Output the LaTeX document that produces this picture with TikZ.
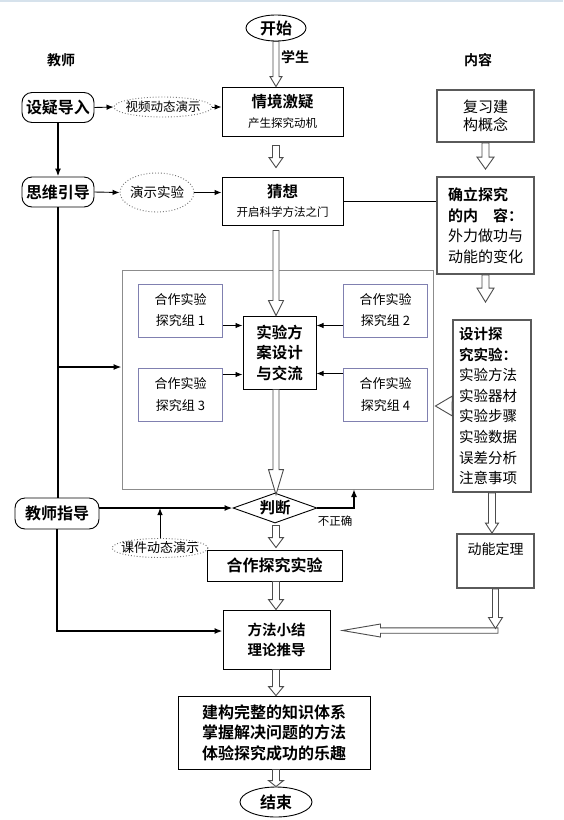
\documentclass[tikz,border=0pt]{standalone}
\usepackage{fontspec}
\newfontfamily\cjk{Noto Sans CJK SC}[BoldFont={Noto Sans CJK SC Bold}]
\usetikzlibrary{shapes.geometric,arrows.meta,calc}
\definecolor{grpc}{RGB}{128,128,176}
\definecolor{bordg}{RGB}{90,90,90}
\definecolor{bigc}{RGB}{140,140,140}
\definecolor{topc}{RGB}{214,226,236}
\newcommand\fsz[2]{\fontsize{#1}{#2}\selectfont}
% down block arrow: x-ref, from, to, shaft half, head half, head length
\newcommand\dnarr[6]{\draw[barr] let \p1=(#1), \p2=(#2), \p3=(#3) in
 (\x1-#4pt,\y2) -- (\x1-#4pt,\y3+#6pt) -- (\x1-#5pt,\y3+#6pt) -- (\x1,\y3) --
 (\x1+#5pt,\y3+#6pt) -- (\x1+#4pt,\y3+#6pt) -- (\x1+#4pt,\y2) -- cycle;}
% left block arrow: y-ref, from (right), to (tip), shaft half, head half, head length
\newcommand\ltarr[6]{\draw[barr] let \p1=(#1), \p2=(#2), \p3=(#3) in
 (\x2,\y1+#4pt) -- (\x3+#6pt,\y1+#4pt) -- (\x3+#6pt,\y1+#5pt) -- (\x3,\y1) --
 (\x3+#6pt,\y1-#5pt) -- (\x3+#6pt,\y1-#4pt) -- (\x2,\y1-#4pt) -- cycle;}
\begin{document}
\begin{tikzpicture}[x=1pt,y=-1pt,
  every node/.style={font=\cjk, inner sep=0pt},
  hd/.style={font=\cjk\bfseries\fsz{14}{16}},
  rbox/.style={draw, rounded corners=10pt, line width=0.9pt, minimum width=72pt, minimum height=30pt, font=\cjk\bfseries\fsz{16}{18}},
  dell/.style={ellipse, draw=black!55, dotted, line width=0.9pt, inner xsep=-12pt, inner ysep=-2pt},
  sbox/.style={draw, line width=0.9pt, align=center},
  gbox/.style={draw=bordg, line width=1.8pt},
  grp/.style={draw=grpc, line width=0.8pt, minimum width=84pt, minimum height=53pt, align=center, font=\cjk\fsz{13}{21}},
  barr/.style={draw=black!70, line width=0.9pt, fill=white},
  arr/.style={-{Latex[length=7pt,width=5.5pt]}, line width=0.9pt},
  tarr/.style={-{Latex[length=8pt,width=6pt]}, line width=2pt},
  tline/.style={line width=2pt},
]
\useasboundingbox[fill=white] (0,0) rectangle (563,820);
\draw[topc, line width=2pt] (0,1) -- (563,1);

% column heads
\node[hd] (tch) at (61,60) {教师};
\node[hd] (stu) at (295,57) {学生};
\node[hd] (cnt) at (478,60) {内容};

% main nodes
\node[ellipse, draw, line width=0.9pt, minimum width=60pt, minimum height=26pt, inner xsep=-10pt, inner ysep=-2pt, font=\cjk\bfseries\fsz{16}{18}] (start) at (276,28) {开始};
\node[rbox] (syd) at (58,107.5) {设疑导入};
\node[dell, minimum width=98pt, minimum height=20pt, font=\cjk\fsz{12.5}{14}] (spdt) at (163,107) {视频动态演示};
\node[sbox, minimum width=121pt, minimum height=49pt, font=\cjk\fsz{12}{20}] (qj) at (282.5,111.5) {{\bfseries\fsz{15.5}{20}情境激疑}\\{\fsz{11.5}{20}产生探究动机}};

\node[rbox] (swyd) at (58,192) {思维引导};
\node[dell, minimum width=74pt, minimum height=39pt, font=\cjk\fsz{13.5}{15}] (ysyy) at (157,192.5) {演示实验};
\node[sbox, minimum width=121pt, minimum height=48pt, font=\cjk\fsz{12}{19}] (cx) at (282.5,201) {{\bfseries\fsz{15.5}{19}猜想}\\{\fsz{11.5}{19}开启科学方法之门}};

\node[gbox, minimum width=97pt, minimum height=52pt, align=center, font=\cjk\fsz{15}{18}] (fx) at (485.5,116) {复习建\\构概念};
\node[gbox, minimum width=97pt, minimum height=97pt, align=left, font=\cjk\fsz{15}{20.5}] (qd) at (485.5,225.5) {\textbf{确立探究}\\\textbf{的内\quad 容：}\\外力做功与\\动能的变化};

\node[draw=bigc, line width=0.8pt, minimum width=311pt, minimum height=219pt] (big) at (277.5,379.5) {};
\node[grp] (g1) at (180.5,310.5) {合作实验\\探究组 1};
\node[grp] (g2) at (385.5,310.5) {合作实验\\探究组 2};
\node[grp] (g3) at (180.5,394.5) {合作实验\\探究组 3};
\node[grp] (g4) at (385.5,394.5) {合作实验\\探究组 4};
\node[sbox, minimum width=73pt, minimum height=73pt, line width=1pt, font=\cjk\bfseries\fsz{15.5}{20.5}] (ctr) at (279.5,352.5) {实验方\\案设计\\与交流};

\node[gbox, minimum width=78pt, minimum height=172pt, text width=66pt, align=left, font=\cjk\fsz{14.5}{20.6}] (sj) at (492,406) {\textbf{设计探}\\\textbf{究实验：}\\实验方法\\实验器材\\实验步骤\\实验数据\\误差分析\\注意事项};

\node[rbox, minimum width=84pt, minimum height=31pt] (jszd) at (57,513.5) {教师指导};
\node[diamond, draw, line width=0.9pt, shape aspect=2.8, minimum width=84pt, minimum height=30pt, font=\cjk\bfseries\fsz{15.5}{17}] (jd) at (275,508) {判断};
\node[font=\cjk\fsz{11.5}{13}] (bzq) at (335,521) {不正确};
\node[dell, minimum width=96pt, minimum height=19pt, font=\cjk\fsz{13}{15}] (ksdt) at (160,548) {课件动态演示};
\node[sbox, minimum width=135pt, minimum height=31pt, font=\cjk\bfseries\fsz{16}{18}] (hz) at (274.5,565.5) {合作探究实验};
\node[sbox, minimum width=107pt, minimum height=59pt, font=\cjk\bfseries\fsz{14.5}{20}] (ff) at (276.5,639.5) {方法小结\\理论推导};
\node[sbox, minimum width=192pt, minimum height=73pt, font=\cjk\bfseries\fsz{16}{20.5}] (jg) at (274,732.5) {建构完整的知识体系\\掌握解决问题的方法\\体验探究成功的乐趣};
\node[ellipse, draw, line width=0.9pt, minimum width=72pt, minimum height=30pt, inner xsep=-10pt, inner ysep=-2pt, font=\cjk\bfseries\fsz{16}{18}] (end) at (276,802) {结束};

\node[gbox, minimum width=77pt, minimum height=54pt] (dn) at (495.5,561) {};
\node[font=\cjk\fsz{14}{16}] (dnt) at ([yshift=-16pt]dn.north) {动能定理};

% helper coordinates
\coordinate (ax) at (276,0);
\coordinate (corner) at (495,630.5);
\coordinate (br) at (58,367);
\coordinate (up) at (354,489);

% block arrows
\dnarr{ax}{start.south}{qj.north}{3}{6}{10}
\dnarr{ax}{[yshift=-9pt]qj.south}{[yshift=9pt]cx.north}{3.5}{7}{10}
\dnarr{ax}{[yshift=-5pt]cx.south}{ctr.north}{3}{7.5}{15}
\dnarr{ax}{ctr.south}{[yshift=-2pt]jd.north}{3}{7.5}{25}
\dnarr{ax}{[yshift=-2pt]jd.south}{[yshift=2pt]hz.north}{3.5}{7.5}{10}
\dnarr{ax}{hz.south}{ff.north}{3.5}{7.5}{10}
\dnarr{ax}{ff.south}{jg.north}{3.5}{7.5}{9}
\dnarr{ax}{jg.south}{end.north}{3.5}{7.5}{6}
\dnarr{fx}{fx.south}{[yshift=7pt]qd.north}{3.5}{8.5}{12}
\dnarr{qd}{qd.south}{[yshift=17pt]sj.north}{3.5}{8.5}{14}
\dnarr{sj}{sj.south}{dn.north}{3.5}{6.5}{10}
\ltarr{corner}{[xshift=3pt]corner}{[xshift=12pt]ff.east}{2.7}{6.5}{38}
\dnarr{dn}{dn.south}{[yshift=2pt]corner}{3}{7}{11}
\ltarr{sj}{sj.west}{[xshift=2pt]big.east}{4}{10}{17}

% thin arrows
\draw[arr] (syd.east) -- (spdt.west);
\draw[arr] (spdt.east) -- (spdt.east -| qj.west);
\draw[arr] (swyd.east) -- (ysyy.west);
\draw[arr] (ysyy.east) -- (ysyy.east -| cx.west);
\draw[line width=0.9pt] (cx.east) -- (cx.east -| qd.west);
\draw[arr] ([yshift=-15pt]g1.east) -- ([yshift=-15pt]g1.east -| ctr.west);
\draw[arr] ([yshift=20pt]g3.east) -- ([yshift=20pt]g3.east -| ctr.west);
\draw[arr] ([yshift=-15pt]g2.west) -- ([yshift=-15pt]g2.west -| ctr.east);
\draw[arr] ([yshift=21pt]g4.west) -- ([yshift=21pt]g4.west -| ctr.east);
\draw[arr] (ksdt.north) -- (ksdt.north |- jd.west);

% thick teacher lines
\draw[tarr] (syd.south) -- (swyd.north);
\draw[tline] (swyd.south) -- (swyd.south |- jszd.north);
\draw[tarr] (br) -- (br -| big.west);
\draw[tarr] (jszd.south) |- ([yshift=8.5pt]ff.west);
\draw[tarr] (jszd.east |- jd.west) -- (jd.west);
\draw[tarr] (jd.east) -| (up);
\end{tikzpicture}
\end{document}
